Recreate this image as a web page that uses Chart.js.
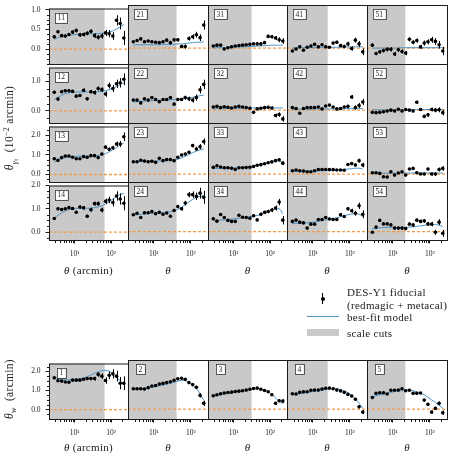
<!DOCTYPE html>
<html>
<head>
<meta charset="utf-8">
<script src="https://cdn.jsdelivr.net/npm/chart.js@4.4.0/dist/chart.umd.min.js"></script>
<style>
  body { margin: 0; background: #fff; width: 452px; height: 465px; position: relative; overflow: hidden;
         font-family: "Liberation Serif", serif; color: #1a1a1a; }
  canvas { position: absolute; }
  .t { position: absolute; white-space: nowrap; line-height: 1; font-size: 11px; letter-spacing: 0.3px; }
  .sub { font-size: 70%; vertical-align: -0.35em; }
</style>
</head>
<body>
<script>
// angular bins (arcmin)
const theta = [2.79, 3.51, 4.42, 5.56, 7.00, 8.81, 11.1, 14.0, 17.6, 22.1, 27.9, 35.1, 44.1, 55.6, 70.0, 88.1, 111, 140, 176, 221];
const scaleCuts = [66, 41, 31, 25, 21.6];   // one per lens bin (column)
const xMajor = [10, 100];
const xTickLabels = ['10¹', '10²'];
const xMinor = [3, 4, 5, 6, 7, 8, 9, 20, 30, 40, 50, 60, 70, 80, 90, 200];

const gtYRange = [[-0.38, 1.03], [-0.41, 1.47], [-0.38, 2.44], [-0.34, 2.0]];
const gtYMajor = [[0, 0.5, 1], [0, 1], [0, 1, 2], [0, 1, 2]];
const gtYMinor = [[-0.375, -0.25, -0.125, 0.125, 0.25, 0.375, 0.625, 0.75, 0.875],
                  [-0.25, 0.25, 0.5, 0.75, 1.25],
                  [-0.25, 0.25, 0.5, 0.75, 1.25, 1.5, 1.75, 2.25],
                  [-0.25, 0.25, 0.5, 0.75, 1.25, 1.5, 1.75]];
const wYRange = [-0.49, 2.41];
const wYMajor = [0, 1, 2];
const wYMinor = [-0.25, 0.25, 0.5, 0.75, 1.25, 1.5, 1.75, 2.25];

// gamma_t : panel "ls" = lens bin l, source bin s
const gt11 = [0.31,0.44,0.34,0.33,0.37,0.43,0.47,0.36,0.37,0.40,0.45,0.34,0.30,0.33,0.41,0.39,0.33,0.73,0.65,0.28];
const gt11Err = [0.04,0.04,0.04,0.04,0.04,0.04,0.05,0.05,0.05,0.05,0.05,0.06,0.06,0.07,0.08,0.09,0.10,0.13,0.15,0.18];
const gt11Fit = [0.25,0.29,0.32,0.34,0.35,0.36,0.37,0.37,0.38,0.38,0.39,0.39,0.39,0.40,0.41,0.43,0.46,0.51,0.56,0.62];
const gt21 = [0.15,0.18,0.22,0.15,0.17,0.15,0.14,0.13,0.15,0.19,0.13,0.20,0.20,0.04,0.04,0.23,0.27,0.32,0.25,0.55];
const gt21Err = [0.03,0.03,0.03,0.03,0.03,0.03,0.03,0.03,0.03,0.03,0.04,0.04,0.04,0.04,0.05,0.05,0.06,0.07,0.08,0.11];
const gt21Fit = [0.07,0.08,0.08,0.08,0.08,0.08,0.08,0.08,0.09,0.09,0.09,0.09,0.10,0.10,0.11,0.12,0.13,0.14,0.14,0.15];
const gt31 = [0.05,0.07,0.07,-0.02,0.01,0.03,0.05,0.06,0.07,0.08,0.09,0.10,0.10,0.10,0.13,0.28,0.27,0.24,0.20,0.17];
const gt31Err = [0.02,0.02,0.02,0.02,0.02,0.02,0.02,0.02,0.02,0.02,0.02,0.02,0.03,0.03,0.03,0.04,0.04,0.05,0.06,0.07];
const gt31Fit = [0.00,0.01,0.01,0.01,0.02,0.02,0.02,0.03,0.03,0.03,0.04,0.04,0.05,0.05,0.06,0.06,0.07,0.07,0.07,0.07];
const gt41 = [-0.07,-0.02,0.03,-0.05,0.02,0.05,0.09,0.03,0.08,0.03,0.02,0.12,0.14,0.06,0.04,0.10,-0.01,0.19,0.10,-0.09];
const gt41Err = [0.03,0.03,0.03,0.03,0.03,0.03,0.03,0.03,0.03,0.03,0.03,0.03,0.04,0.04,0.04,0.05,0.05,0.06,0.07,0.08];
const gt41Fit = [0.00,0.00,0.01,0.01,0.01,0.01,0.01,0.01,0.02,0.02,0.02,0.02,0.02,0.02,0.03,0.03,0.03,0.03,0.03,0.03];
const gt51 = [0.07,-0.13,-0.09,-0.06,-0.03,-0.03,-0.14,-0.04,-0.08,-0.12,0.21,0.14,0.18,0.03,0.12,0.15,0.20,0.16,0.08,-0.07];
const gt51Err = [0.04,0.04,0.04,0.04,0.05,0.05,0.05,0.05,0.05,0.05,0.05,0.05,0.05,0.05,0.06,0.06,0.07,0.08,0.09,0.10];
const gt51Fit = [0.00,0.00,0.00,0.00,0.00,0.00,0.00,0.00,0.01,0.01,0.01,0.01,0.01,0.01,0.01,0.01,0.01,0.01,0.01,0.01];

const gt12 = [0.63,0.40,0.65,0.68,0.68,0.66,0.50,0.52,0.70,0.41,0.65,0.62,0.76,0.72,0.57,0.86,0.76,0.92,0.95,1.07];
const gt12Err = [0.05,0.05,0.05,0.05,0.05,0.05,0.05,0.05,0.06,0.06,0.06,0.07,0.07,0.08,0.09,0.10,0.12,0.14,0.16,0.20];
const gt12Fit = [0.38,0.46,0.53,0.58,0.61,0.63,0.64,0.64,0.64,0.64,0.64,0.64,0.65,0.66,0.68,0.72,0.77,0.83,0.89,0.96];
const gt22 = [0.32,0.32,0.23,0.36,0.32,0.40,0.34,0.27,0.34,0.34,0.40,0.19,0.34,0.34,0.40,0.36,0.32,0.40,0.65,0.82];
const gt22Err = [0.04,0.04,0.04,0.04,0.04,0.04,0.04,0.04,0.04,0.04,0.04,0.05,0.05,0.05,0.06,0.07,0.08,0.10,0.12,0.15];
const gt22Fit = [0.26,0.27,0.28,0.29,0.30,0.30,0.31,0.31,0.32,0.32,0.33,0.34,0.35,0.36,0.37,0.39,0.41,0.44,0.46,0.48];
const gt32 = [0.10,0.12,0.08,0.11,0.09,0.07,0.10,0.12,0.10,0.08,0.06,-0.07,0.04,0.06,0.08,0.09,0.07,-0.17,-0.14,-0.28];
const gt32Err = [0.02,0.02,0.02,0.02,0.02,0.02,0.02,0.02,0.02,0.03,0.03,0.03,0.03,0.03,0.04,0.04,0.05,0.06,0.07,0.09];
const gt32Fit = [0.05,0.05,0.05,0.05,0.06,0.06,0.06,0.06,0.06,0.06,0.06,0.07,0.07,0.07,0.07,0.07,0.07,0.07,0.07,0.07];
const gt42 = [0.08,0.05,-0.10,0.05,0.08,0.08,0.08,0.10,0.04,0.13,0.16,0.10,0.04,0.05,0.10,0.12,0.42,0.08,0.15,0.26];
const gt42Err = [0.03,0.03,0.03,0.03,0.03,0.03,0.03,0.03,0.03,0.03,0.03,0.03,0.04,0.04,0.04,0.05,0.06,0.07,0.08,0.10];
const gt42Fit = [0.03,0.03,0.03,0.03,0.03,0.03,0.04,0.04,0.04,0.04,0.04,0.04,0.04,0.04,0.05,0.05,0.05,0.05,0.05,0.05];
const gt52 = [-0.07,-0.08,-0.07,-0.05,-0.03,0.00,-0.03,0.03,-0.03,0.02,0.00,-0.03,0.25,0.02,-0.20,-0.15,0.02,0.00,0.01,-0.08];
const gt52Err = [0.04,0.04,0.04,0.04,0.04,0.04,0.04,0.04,0.04,0.04,0.04,0.04,0.05,0.05,0.05,0.06,0.06,0.07,0.08,0.09];
const gt52Fit = [0.01,0.01,0.01,0.01,0.01,0.01,0.01,0.01,0.01,0.01,0.02,0.02,0.02,0.02,0.02,0.02,0.02,0.02,0.02,0.02];

const gt13 = [0.80,0.72,0.86,0.94,0.94,0.88,0.80,0.80,0.91,0.88,0.96,0.96,0.86,1.04,1.39,1.28,1.36,1.55,1.55,1.92];
const gt13Err = [0.05,0.05,0.05,0.05,0.05,0.05,0.05,0.05,0.05,0.06,0.06,0.06,0.07,0.07,0.08,0.09,0.10,0.13,0.15,0.22];
const gt13Fit = [0.62,0.72,0.80,0.86,0.90,0.92,0.93,0.93,0.93,0.93,0.94,0.95,0.97,1.00,1.06,1.15,1.26,1.38,1.50,1.60];
const gt23 = [0.59,0.59,0.66,0.62,0.59,0.61,0.56,0.75,0.64,0.69,0.69,0.64,0.80,0.91,0.96,1.04,1.36,1.20,1.31,1.55];
const gt23Err = [0.04,0.04,0.04,0.04,0.04,0.04,0.04,0.04,0.04,0.04,0.05,0.05,0.05,0.06,0.06,0.07,0.08,0.10,0.12,0.15];
const gt23Fit = [0.55,0.58,0.60,0.61,0.62,0.62,0.62,0.63,0.63,0.64,0.65,0.67,0.71,0.77,0.85,0.93,1.02,1.10,1.16,1.20];
const gt33 = [0.32,0.40,0.34,0.30,0.30,0.28,0.22,0.30,0.30,0.31,0.32,0.36,0.42,0.45,0.49,0.54,0.58,0.64,0.68,0.52];
const gt33Err = [0.03,0.03,0.03,0.03,0.03,0.03,0.03,0.03,0.03,0.03,0.03,0.03,0.04,0.04,0.04,0.05,0.05,0.06,0.07,0.09];
const gt33Fit = [0.28,0.27,0.27,0.27,0.28,0.29,0.30,0.31,0.32,0.34,0.36,0.39,0.42,0.46,0.51,0.56,0.60,0.63,0.62,0.56];
const gt43 = [0.16,0.19,0.16,0.14,0.11,0.11,0.16,0.22,0.22,0.22,0.21,0.21,0.19,0.19,0.18,0.46,0.50,0.43,0.64,0.43];
const gt43Err = [0.03,0.03,0.03,0.03,0.03,0.03,0.03,0.03,0.03,0.03,0.03,0.04,0.04,0.04,0.05,0.06,0.07,0.08,0.09,0.11];
const gt43Fit = [0.12,0.12,0.12,0.12,0.13,0.13,0.14,0.15,0.16,0.17,0.18,0.19,0.20,0.21,0.22,0.24,0.26,0.28,0.28,0.24];
const gt53 = [0.06,0.06,0.03,-0.13,-0.14,0.11,-0.05,0.05,0.11,-0.05,0.24,0.27,0.06,0.00,0.00,0.24,0.00,0.00,0.22,0.27];
const gt53Err = [0.04,0.04,0.04,0.04,0.04,0.04,0.04,0.04,0.04,0.04,0.05,0.05,0.05,0.05,0.06,0.06,0.07,0.08,0.09,0.11];
const gt53Fit = [0.04,0.04,0.04,0.04,0.04,0.04,0.04,0.04,0.05,0.05,0.05,0.05,0.05,0.05,0.05,0.05,0.05,0.05,0.05,0.05];

const gt14 = [0.58,1.00,0.97,1.00,1.05,1.01,0.85,1.08,1.04,0.68,0.96,1.22,1.22,0.95,1.32,1.38,1.27,1.55,1.42,1.24];
const gt14Err = [0.06,0.06,0.06,0.06,0.06,0.06,0.06,0.07,0.07,0.07,0.08,0.08,0.09,0.10,0.12,0.14,0.17,0.20,0.24,0.30];
const gt14Fit = [0.60,0.72,0.83,0.91,0.97,1.00,1.02,1.02,1.02,1.02,1.03,1.05,1.08,1.13,1.20,1.30,1.42,1.53,1.62,1.65];
const gt24 = [0.68,0.74,0.57,0.76,0.76,0.81,0.72,0.78,0.70,0.75,0.62,0.85,1.01,0.92,1.15,1.49,1.49,1.42,1.55,1.38];
const gt24Err = [0.05,0.05,0.05,0.05,0.05,0.05,0.05,0.05,0.05,0.05,0.06,0.06,0.07,0.08,0.09,0.11,0.13,0.15,0.22,0.26];
const gt24Fit = [0.66,0.68,0.70,0.71,0.72,0.73,0.74,0.75,0.76,0.78,0.80,0.84,0.90,0.98,1.08,1.20,1.30,1.38,1.43,1.45];
const gt34 = [0.52,0.42,0.69,0.57,0.45,0.41,0.41,0.66,0.58,0.57,0.54,0.64,0.47,0.70,0.78,0.81,0.87,0.95,1.19,0.46];
const gt34Err = [0.04,0.04,0.04,0.04,0.04,0.04,0.04,0.04,0.04,0.04,0.05,0.05,0.05,0.06,0.06,0.07,0.08,0.10,0.13,0.17];
const gt34Fit = [0.45,0.45,0.46,0.47,0.48,0.50,0.52,0.54,0.56,0.58,0.60,0.62,0.65,0.69,0.74,0.80,0.86,0.91,0.92,0.72];
const gt44 = [0.41,0.46,0.38,0.35,0.14,0.30,0.30,0.49,0.49,0.57,0.51,0.49,0.49,0.68,0.61,0.92,0.84,0.74,1.04,0.70];
const gt44Err = [0.04,0.04,0.04,0.04,0.04,0.04,0.04,0.04,0.04,0.05,0.05,0.05,0.05,0.06,0.06,0.07,0.08,0.10,0.13,0.16];
const gt44Fit = [0.33,0.33,0.33,0.34,0.35,0.37,0.39,0.41,0.44,0.47,0.50,0.53,0.56,0.60,0.64,0.68,0.71,0.72,0.70,0.60];
const gt54 = [-0.03,0.18,0.45,0.31,0.31,0.27,0.14,0.14,0.14,0.12,0.30,0.27,0.46,0.41,0.43,0.31,0.30,-0.03,0.38,-0.07];
const gt54Err = [0.05,0.05,0.05,0.05,0.05,0.05,0.05,0.05,0.05,0.05,0.06,0.06,0.06,0.07,0.07,0.08,0.09,0.10,0.12,0.14];
const gt54Fit = [0.12,0.13,0.15,0.16,0.17,0.17,0.17,0.17,0.17,0.17,0.18,0.19,0.21,0.23,0.25,0.27,0.28,0.28,0.26,0.20];

// w(theta) : lens bins 1..5
const w1 = [1.66,1.51,1.49,1.44,1.43,1.54,1.54,1.54,1.59,1.62,1.62,1.62,1.84,1.75,1.52,1.79,1.87,1.75,1.38,1.38];
const w1Err = [0.04,0.04,0.04,0.04,0.04,0.05,0.05,0.05,0.06,0.07,0.08,0.10,0.12,0.14,0.17,0.20,0.24,0.28,0.32,0.36];
const w1Fit = [1.70,1.63,1.58,1.56,1.56,1.57,1.59,1.62,1.66,1.72,1.80,1.90,1.98,2.04,2.05,2.00,1.88,1.70,1.50,1.30];
const w2 = [1.00,1.00,1.00,0.98,1.05,1.13,1.16,1.23,1.26,1.30,1.34,1.41,1.49,1.51,1.46,1.30,1.20,1.07,0.67,0.28];
const w2Err = [0.02,0.02,0.02,0.02,0.02,0.02,0.02,0.02,0.02,0.03,0.03,0.03,0.04,0.04,0.05,0.06,0.07,0.08,0.10,0.13];
const w2Fit = [0.95,0.97,0.98,1.00,1.03,1.06,1.10,1.14,1.18,1.22,1.27,1.32,1.37,1.41,1.40,1.32,1.18,1.00,0.75,0.42];
const w3 = [0.65,0.70,0.75,0.79,0.81,0.83,0.86,0.88,0.90,0.93,0.97,1.01,1.03,0.97,0.91,0.85,0.70,0.28,0.41,0.39];
const w3Err = [0.02,0.02,0.02,0.02,0.02,0.02,0.02,0.02,0.02,0.02,0.03,0.03,0.03,0.04,0.04,0.05,0.06,0.07,0.08,0.09];
const w3Fit = [0.62,0.66,0.70,0.74,0.77,0.80,0.83,0.86,0.89,0.92,0.95,0.98,1.00,0.98,0.93,0.85,0.72,0.55,0.38,0.25];
const w4 = [0.75,0.74,0.82,0.85,0.85,0.92,0.93,0.93,0.98,1.02,1.03,1.00,0.93,0.89,0.82,0.72,0.64,0.48,0.11,-0.15];
const w4Err = [0.02,0.02,0.02,0.02,0.02,0.02,0.02,0.02,0.02,0.02,0.03,0.03,0.03,0.04,0.04,0.05,0.06,0.07,0.08,0.10];
const w4Fit = [0.70,0.72,0.75,0.78,0.81,0.84,0.87,0.90,0.93,0.96,0.99,1.01,1.00,0.96,0.89,0.80,0.67,0.50,0.28,0.05];
const w5 = [0.57,0.77,0.80,0.80,0.74,0.92,0.92,0.93,1.00,0.90,0.92,0.77,0.77,0.79,0.44,0.23,-0.15,0.03,0.28,-0.18];
const w5Err = [0.03,0.03,0.03,0.03,0.03,0.03,0.03,0.03,0.03,0.03,0.04,0.04,0.04,0.05,0.05,0.06,0.07,0.08,0.09,0.11];
const w5Fit = [0.60,0.65,0.70,0.74,0.78,0.82,0.86,0.89,0.92,0.94,0.93,0.90,0.85,0.79,0.70,0.58,0.45,0.32,0.18,0.05];

const gtPanels = {
  11: [gt11, gt11Err, gt11Fit], 21: [gt21, gt21Err, gt21Fit], 31: [gt31, gt31Err, gt31Fit], 41: [gt41, gt41Err, gt41Fit], 51: [gt51, gt51Err, gt51Fit],
  12: [gt12, gt12Err, gt12Fit], 22: [gt22, gt22Err, gt22Fit], 32: [gt32, gt32Err, gt32Fit], 42: [gt42, gt42Err, gt42Fit], 52: [gt52, gt52Err, gt52Fit],
  13: [gt13, gt13Err, gt13Fit], 23: [gt23, gt23Err, gt23Fit], 33: [gt33, gt33Err, gt33Fit], 43: [gt43, gt43Err, gt43Fit], 53: [gt53, gt53Err, gt53Fit],
  14: [gt14, gt14Err, gt14Fit], 24: [gt24, gt24Err, gt24Fit], 34: [gt34, gt34Err, gt34Fit], 44: [gt44, gt44Err, gt44Fit], 54: [gt54, gt54Err, gt54Fit]
};
const wPanels = [[w1, w1Err, w1Fit], [w2, w2Err, w2Fit], [w3, w3Err, w3Fit], [w4, w4Err, w4Fit], [w5, w5Err, w5Fit]];

// layout
const X_MIN = 2.0, X_MAX = 288;
const colEdges = [49, 128, 208, 287, 367, 447];
const rowEdges = [5, 64, 123, 182, 240];
const wTop = 360, wBottom = 419;
const GRAY = '#c9c9c9', BLUE = '#4d93c4', ORANGE = '#f39a48', INK = '#1a1a1a';
const FONT = '"Liberation Serif", serif';
const L = 40, R = 6, T = 6, B = 26;

const panelDeco = {
  id: 'panelDeco',
  beforeDatasetsDraw(chart, args, o) {
    const { ctx, chartArea: a, scales: { x } } = chart;
    const xc = x.getPixelForValue(o.cut);
    ctx.save();
    ctx.fillStyle = GRAY;
    ctx.fillRect(a.left, a.top, xc - a.left, a.bottom - a.top);
    ctx.restore();
  },
  afterDatasetsDraw(chart, args, o) {
    const { ctx, chartArea: a, scales: { x, y } } = chart;
    const ds = chart.data.datasets[0];
    ctx.save();
    ctx.beginPath();
    ctx.rect(a.left, a.top, a.right - a.left, a.bottom - a.top);
    ctx.clip();
    ctx.strokeStyle = '#000';
    ctx.lineWidth = 1;
    ds.data.forEach((p, i) => {
      const e = ds.errors[i];
      const px = Math.round(x.getPixelForValue(p.x)) + 0.5;
      ctx.beginPath();
      ctx.moveTo(px, y.getPixelForValue(p.y - e));
      ctx.lineTo(px, y.getPixelForValue(p.y + e));
      ctx.stroke();
    });
    ctx.restore();
  },
  afterDraw(chart, args, o) {
    const { ctx, chartArea: a, scales: { x, y } } = chart;
    ctx.save();
    ctx.strokeStyle = INK;
    ctx.lineWidth = 1;
    ctx.strokeRect(a.left + 0.5, a.top + 0.5, a.right - a.left, a.bottom - a.top);
    // minor ticks
    ctx.beginPath();
    if (o.showX) {
      xMinor.forEach(v => {
        const px = Math.round(x.getPixelForValue(v)) + 0.5;
        ctx.moveTo(px, a.bottom + 1); ctx.lineTo(px, a.bottom + 3);
      });
    }
    if (o.showY) {
      o.yMinor.forEach(v => {
        const py = Math.round(y.getPixelForValue(v)) + 0.5;
        ctx.moveTo(a.left, py); ctx.lineTo(a.left - 2, py);
      });
    }
    ctx.stroke();
    // panel number box
    ctx.font = '7.5px ' + FONT;
    const tw = ctx.measureText(o.label).width;
    const cx = a.left + 12.3, cy = a.top + 9.3;
    const bw = tw + 5, bh = 10;
    ctx.fillStyle = '#fff';
    ctx.fillRect(cx - bw / 2, cy - bh / 2, bw, bh);
    ctx.strokeStyle = '#333';
    ctx.lineWidth = 0.8;
    ctx.strokeRect(Math.round(cx - bw / 2) + 0.5, Math.round(cy - bh / 2) + 0.5, Math.round(bw), bh);
    ctx.fillStyle = INK;
    ctx.textAlign = 'center';
    ctx.textBaseline = 'middle';
    ctx.fillText(o.label, cx, cy + 0.5);
    ctx.restore();
  }
};

function makePanel(p) {
  const w = p.right - p.left, h = p.bottom - p.top;
  const cv = document.createElement('canvas');
  cv.width = L + w + R;
  cv.height = T + h + B;
  cv.style.left = (p.left - L) + 'px';
  cv.style.top = (p.top - T) + 'px';
  document.body.appendChild(cv);

  const pts = theta.map((t, i) => ({ x: t, y: p.vals[i] }));
  const fit = theta.map((t, i) => ({ x: t, y: p.fit[i] }));

  new Chart(cv, {
    type: 'scatter',
    data: {
      datasets: [
        { type: 'scatter', data: pts, errors: p.err, pointRadius: 1.8, pointBackgroundColor: '#000',
          pointBorderWidth: 0, order: 0 },
        { type: 'line', data: fit, borderColor: BLUE, borderWidth: 1, pointRadius: 0,
          cubicInterpolationMode: 'monotone', order: 1 },
        { type: 'line', data: [{ x: X_MIN, y: 0 }, { x: X_MAX, y: 0 }], borderColor: ORANGE,
          borderDash: [3, 2], borderWidth: 1.3, pointRadius: 0, order: 2 }
      ]
    },
    options: {
      responsive: false,
      animation: false,
      devicePixelRatio: 1,
      events: [],
      layout: { padding: { top: T, right: R, left: 0, bottom: 0 } },
      plugins: {
        legend: { display: false },
        tooltip: { enabled: false },
        panelDeco: { cut: p.cut, label: p.label, showX: p.showX, showY: p.showY, yMinor: p.yMinor }
      },
      scales: {
        x: {
          type: 'logarithmic', min: X_MIN, max: X_MAX, bounds: 'data',
          afterFit: s => { s.height = B; },
          afterBuildTicks: s => { s.ticks = xMajor.map(v => ({ value: v })); },
          ticks: { display: p.showX, autoSkip: false, maxRotation: 0, padding: 6, color: INK,
                   font: { family: FONT, size: 7.5 },
                   callback: v => xTickLabels[xMajor.indexOf(v)] },
          grid: { display: p.showX, drawOnChartArea: false, tickLength: 3.5, tickColor: INK },
          border: { display: false }
        },
        y: {
          type: 'linear', min: p.yRange[0], max: p.yRange[1], bounds: 'data',
          afterFit: s => { s.width = L; },
          afterBuildTicks: s => { s.ticks = p.yMajor.map(v => ({ value: v })); },
          ticks: { display: p.showY, padding: 5, color: INK, font: { family: FONT, size: 7.5 },
                   callback: v => v.toFixed(1) },
          grid: { display: p.showY, drawOnChartArea: false, tickLength: 3.5, tickColor: INK },
          border: { display: false }
        }
      }
    },
    plugins: [panelDeco]
  });
}

for (let s = 0; s < 4; s++) {
  for (let l = 0; l < 5; l++) {
    const key = `${l + 1}${s + 1}`;
    const [vals, err, fit] = gtPanels[key];
    makePanel({
      left: colEdges[l], right: colEdges[l + 1], top: rowEdges[s], bottom: rowEdges[s + 1],
      vals, err, fit, cut: scaleCuts[l], label: key,
      yRange: gtYRange[s], yMajor: gtYMajor[s], yMinor: gtYMinor[s],
      showX: s === 3, showY: l === 0
    });
  }
}
for (let l = 0; l < 5; l++) {
  const [vals, err, fit] = wPanels[l];
  makePanel({
    left: colEdges[l], right: colEdges[l + 1], top: wTop, bottom: wBottom,
    vals, err, fit, cut: scaleCuts[l], label: String(l + 1),
    yRange: wYRange, yMajor: wYMajor, yMinor: wYMinor,
    showX: true, showY: l === 0
  });
}

// text: axis titles and legend
function addText(html, x, y, opts = {}) {
  const d = document.createElement('div');
  d.className = 't';
  d.innerHTML = html;
  d.style.left = x + 'px';
  d.style.top = y + 'px';
  if (opts.size) d.style.fontSize = opts.size + 'px';
  const rot = opts.rotate ? ' rotate(-90deg)' : '';
  d.style.transform = (opts.anchor === 'left' ? 'translate(0,-50%)' : 'translate(-50%,-50%)') + rot;
  document.body.appendChild(d);
}

for (let l = 0; l < 5; l++) {
  const cx = (colEdges[l] + colEdges[l + 1]) / 2;
  const html = l === 0 ? '<i>θ</i> (arcmin)' : '<i>θ</i>';
  addText(html, cx, 270);
  addText(html, cx, 447);
}
addText('<i>θ</i><span class="sub"><i>γ</i><span style="font-size:80%;vertical-align:-0.25em">t</span></span>&nbsp; (10<sup style="font-size:70%">−2</sup> arcmin)', 11, 128, { rotate: true, size: 11.5 });
addText('<i>θ</i><span class="sub"><i>w</i></span>&nbsp; (arcmin)', 11, 389, { rotate: true, size: 11.5 });

// legend
addText('DES-Y1 fiducial', 347, 292, { anchor: 'left' });
addText('(redmagic + metacal)', 347, 305, { anchor: 'left' });
addText('best-fit model', 347, 317, { anchor: 'left' });
addText('scale cuts', 347, 333, { anchor: 'left' });
const mk = (css) => { const d = document.createElement('div'); d.style.cssText = 'position:absolute;' + css; document.body.appendChild(d); };
mk('left:322px;top:293px;width:1px;height:11px;background:#000');
mk('left:320.5px;top:296.5px;width:4px;height:4px;border-radius:50%;background:#000');
mk('left:307px;top:316px;width:32px;height:1px;background:' + BLUE);
mk('left:307px;top:329px;width:32px;height:7px;background:' + GRAY);
</script>
</body>
</html>
